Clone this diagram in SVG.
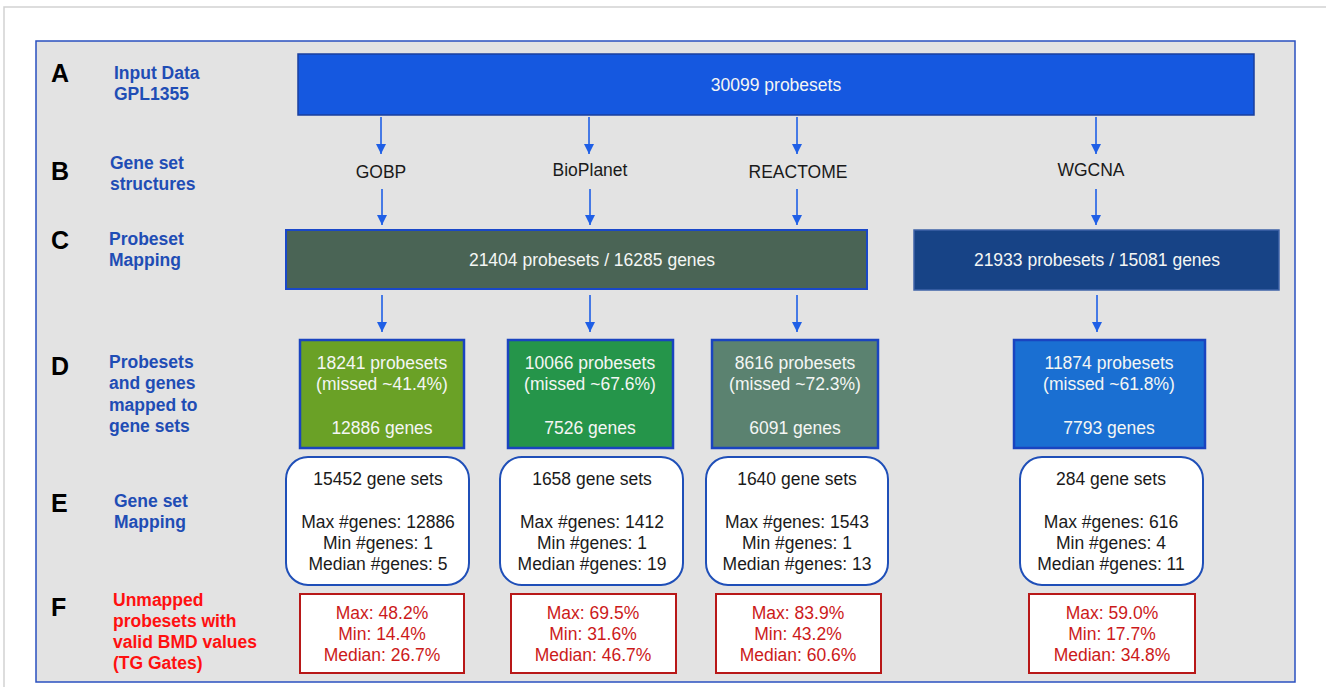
<svg xmlns="http://www.w3.org/2000/svg" width="1326" height="687" viewBox="0 0 1326 687">
<defs>
<marker id="ah" viewBox="0 0 10 10" refX="10" refY="5" markerWidth="10" markerHeight="10" markerUnits="userSpaceOnUse" orient="auto">
<path d="M0,0 L10,5 L0,10 Z" fill="#1f5fe6"/>
</marker>
</defs>
<style>
text{font-family:"Liberation Sans",Arial,sans-serif;}
.row{font-size:25px;font-weight:bold;fill:#000;}
.lab{font-size:17.5px;font-weight:bold;fill:#1f4db5;}
.labr{font-size:17.5px;font-weight:bold;fill:#ff1010;}
.w{font-size:17.5px;fill:#f4f6f4;text-anchor:middle;}
.k{font-size:17.5px;fill:#1a1a1a;text-anchor:middle;}
.r{font-size:17.5px;fill:#cc1a1a;text-anchor:middle;}
.dbox{stroke:#1a44c0;stroke-width:2.5;}
.ebox{fill:#fff;stroke:#1f4fb8;stroke-width:2;}
.fbox{fill:#fff;stroke:#b81818;stroke-width:2;}
.arr{stroke:#1f5fe6;stroke-width:1.6;fill:none;marker-end:url(#ah);}
</style>
<rect x="0" y="0" width="1326" height="687" fill="#fff"/>
<path d="M4,687 V7 H1326" fill="none" stroke="#d2d2d2" stroke-width="1.5"/>
<rect id="panel" x="36" y="41" width="1259" height="641" fill="#e3e3e3" stroke="#2a50c0" stroke-width="1.5"/>

<g id="labels">
<text class="row" x="51" y="82">A</text>
<text class="lab" x="114" y="79">Input Data</text>
<text class="lab" x="114" y="100">GPL1355</text>
<text class="row" x="51" y="180">B</text>
<text class="lab" x="110" y="169">Gene set</text>
<text class="lab" x="110" y="190">structures</text>
<text class="row" x="51" y="249">C</text>
<text class="lab" x="109" y="245">Probeset</text>
<text class="lab" x="109" y="266">Mapping</text>
<text class="row" x="51" y="375">D</text>
<text class="lab" x="109" y="368">Probesets</text>
<text class="lab" x="109" y="389">and genes</text>
<text class="lab" x="109" y="411">mapped to</text>
<text class="lab" x="109" y="432">gene sets</text>
<text class="row" x="51" y="512">E</text>
<text class="lab" x="114" y="507">Gene set</text>
<text class="lab" x="114" y="528">Mapping</text>
<text class="row" x="51" y="616">F</text>
<text class="labr" x="113" y="606">Unmapped</text>
<text class="labr" x="113" y="627">probesets with</text>
<text class="labr" x="113" y="648">valid BMD values</text>
<text class="labr" x="113" y="669">(TG Gates)</text>
</g>

<g id="connectors">
<line class="arr" x1="381" y1="117" x2="381" y2="154"/>
<line class="arr" x1="589" y1="117" x2="589" y2="154"/>
<line class="arr" x1="797" y1="117" x2="797" y2="154"/>
<line class="arr" x1="1096" y1="117" x2="1096" y2="154"/>
<line class="arr" x1="382" y1="189" x2="382" y2="225"/>
<line class="arr" x1="590" y1="189" x2="590" y2="225"/>
<line class="arr" x1="797" y1="189" x2="797" y2="225"/>
<line class="arr" x1="1096" y1="189" x2="1096" y2="225"/>
<line class="arr" x1="382" y1="295" x2="382" y2="332"/>
<line class="arr" x1="590" y1="295" x2="590" y2="332"/>
<line class="arr" x1="797" y1="295" x2="797" y2="332"/>
<line class="arr" x1="1097" y1="295" x2="1097" y2="332"/>
</g>

<g id="nodeA">
<rect x="298" y="54" width="956" height="61" fill="#1558e0" stroke="#1a3f9e" stroke-width="1.5"/>
<text class="w" x="776" y="91">30099 probesets</text>
</g>

<g id="nodeB">
<text class="k" x="381" y="178">GOBP</text>
<text class="k" x="590" y="176">BioPlanet</text>
<text class="k" x="798" y="178">REACTOME</text>
<text class="k" x="1091" y="176">WGCNA</text>
</g>

<g id="nodeC1">
<rect x="286" y="230" width="581" height="59" fill="#4a6455" stroke="#1a48c8" stroke-width="2"/>
<text class="w" x="592" y="266">21404 probesets / 16285 genes</text>
</g>
<g id="nodeC2">
<rect x="914" y="230" width="365" height="60" fill="#174386" stroke="#3f63a8" stroke-width="1.5"/>
<text class="w" x="1097" y="266">21933 probesets / 15081 genes</text>
</g>

<g id="nodeD1">
<rect class="dbox" x="300" y="340" width="164" height="108" fill="#6aa126"/>
<text class="w" x="382" y="369">18241 probesets</text>
<text class="w" x="382" y="390">(missed ~41.4%)</text>
<text class="w" x="382" y="434">12886 genes</text>
</g>
<g id="nodeD2">
<rect class="dbox" x="508" y="340" width="165" height="108" fill="#25954a"/>
<text class="w" x="590" y="369">10066 probesets</text>
<text class="w" x="590" y="390">(missed ~67.6%)</text>
<text class="w" x="590" y="434">7526 genes</text>
</g>
<g id="nodeD3">
<rect class="dbox" x="712" y="340" width="166" height="108" fill="#5b8270"/>
<text class="w" x="795" y="369">8616 probesets</text>
<text class="w" x="795" y="390">(missed ~72.3%)</text>
<text class="w" x="795" y="434">6091 genes</text>
</g>
<g id="nodeD4">
<rect class="dbox" x="1014" y="340" width="191" height="108" fill="#1a6fd2"/>
<text class="w" x="1109" y="369">11874 probesets</text>
<text class="w" x="1109" y="390">(missed ~61.8%)</text>
<text class="w" x="1109" y="434">7793 genes</text>
</g>

<g id="nodeE1">
<rect class="ebox" x="286" y="457" width="183" height="128" rx="22"/>
<text class="k" x="378" y="485">15452 gene sets</text>
<text class="k" x="378" y="528">Max #genes: 12886</text>
<text class="k" x="378" y="549">Min #genes: 1</text>
<text class="k" x="378" y="570">Median #genes: 5</text>
</g>
<g id="nodeE2">
<rect class="ebox" x="500" y="457" width="183" height="128" rx="22"/>
<text class="k" x="592" y="485">1658 gene sets</text>
<text class="k" x="592" y="528">Max #genes: 1412</text>
<text class="k" x="592" y="549">Min #genes: 1</text>
<text class="k" x="592" y="570">Median #genes: 19</text>
</g>
<g id="nodeE3">
<rect class="ebox" x="706" y="457" width="182" height="128" rx="22"/>
<text class="k" x="797" y="485">1640 gene sets</text>
<text class="k" x="797" y="528">Max #genes: 1543</text>
<text class="k" x="797" y="549">Min #genes: 1</text>
<text class="k" x="797" y="570">Median #genes: 13</text>
</g>
<g id="nodeE4">
<rect class="ebox" x="1020" y="457" width="183" height="128" rx="22"/>
<text class="k" x="1111" y="485">284 gene sets</text>
<text class="k" x="1111" y="528">Max #genes: 616</text>
<text class="k" x="1111" y="549">Min #genes: 4</text>
<text class="k" x="1111" y="570">Median #genes: 11</text>
</g>

<g id="nodeF1">
<rect class="fbox" x="300" y="594" width="164" height="79"/>
<text class="r" x="382" y="619">Max: 48.2%</text>
<text class="r" x="382" y="640">Min: 14.4%</text>
<text class="r" x="382" y="661">Median: 26.7%</text>
</g>
<g id="nodeF2">
<rect class="fbox" x="511" y="594" width="165" height="79"/>
<text class="r" x="593" y="619">Max: 69.5%</text>
<text class="r" x="593" y="640">Min: 31.6%</text>
<text class="r" x="593" y="661">Median: 46.7%</text>
</g>
<g id="nodeF3">
<rect class="fbox" x="716" y="594" width="165" height="79"/>
<text class="r" x="798" y="619">Max: 83.9%</text>
<text class="r" x="798" y="640">Min: 43.2%</text>
<text class="r" x="798" y="661">Median: 60.6%</text>
</g>
<g id="nodeF4">
<rect class="fbox" x="1029" y="594" width="166" height="79"/>
<text class="r" x="1112" y="619">Max: 59.0%</text>
<text class="r" x="1112" y="640">Min: 17.7%</text>
<text class="r" x="1112" y="661">Median: 34.8%</text>
</g>
</svg>
